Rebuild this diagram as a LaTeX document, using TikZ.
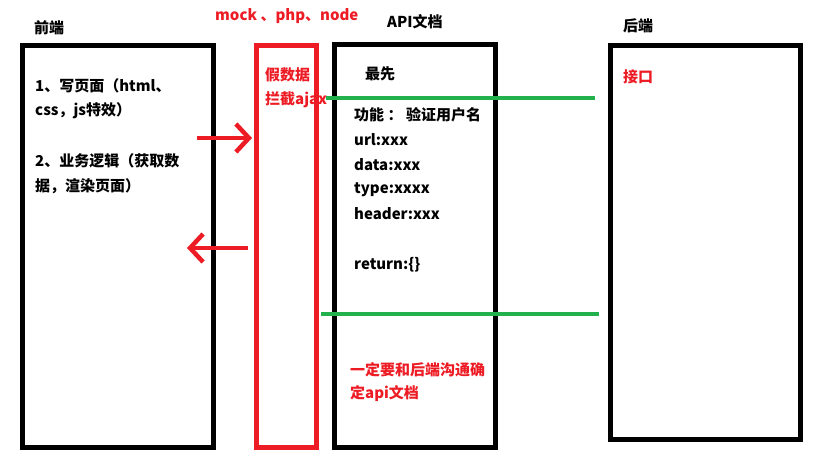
\documentclass[tikz,border=0pt]{standalone}
\usepackage{fontspec}
\setmainfont{Noto Sans CJK SC}
\usepackage{xcolor}
\usetikzlibrary{arrows.meta}
\definecolor{paintred}{HTML}{ED1C24}
\definecolor{paintgreen}{HTML}{22B14C}
\tikzset{
  box/.style={draw, line width=5pt, minimum width=#1},
  lbl/.style={anchor=west, inner sep=0pt, font=\fontsize{15}{18}\selectfont\bfseries},
  redlbl/.style={lbl, text=paintred},
  sync/.style={paintgreen, line width=4pt},
  call/.style={paintred, line width=4.5pt, -{Straight Barb[length=13pt,width=28pt]}}
}
\begin{document}
\begin{tikzpicture}[x=1pt, y=-1pt]
\useasboundingbox (0,0) rectangle (834,467);
%----------------------------------------
\node[box=191pt, minimum height=402pt] (front) at (117.5,246.5) {};
\node[box=59.5pt, minimum height=402pt, draw=paintred] (mock) at (286.25,246) {};
\node[box=160.5pt, minimum height=403.5pt] (api) at (414.75,245.75) {};
\node[box=189.5pt, minimum height=394.5pt] (back) at (705.25,242.25) {};
%----------------------------------------
\node[lbl] (fronttitle) at (34,28) {前端};
\node[redlbl] (mocktitle) at (215,16) {mock 、php、node};
\node[lbl] (apititle) at (387,22) {API文档};
\node[lbl] (backtitle) at (623,26) {后端};
%----------------------------------------
\node[lbl] (f1) at (35,86) {1、写页面（html、};
\node[lbl] (f2) at (35,111) {css，js特效）};
\node[lbl] (f3) at (35,161) {2、业务逻辑（获取数};
\node[lbl] (f4) at (35,186) {据，渲染页面）};
%----------------------------------------
\node[redlbl] (m1) at (265,75) {假数据};
\node[redlbl] (m2) at (265,100) {拦截ajax};
%----------------------------------------
\node[lbl] (a0) at (365,74) {最先};
\node[lbl] (a1) at (354,115) {功能 ： 验证用户名};
\node[lbl] (a2) at (354,140) {url:xxx};
\node[lbl] (a3) at (354,165) {data:xxx};
\node[lbl] (a4) at (354,190) {type:xxxx};
\node[lbl] (a5) at (354,214) {header:xxx};
\node[lbl] (a6) at (354,265) {return:\{\}};
\node[redlbl] (a7) at (350,370) {一定要和后端沟通确};
\node[redlbl] (a8) at (350,394) {定api文档};
%----------------------------------------
\node[redlbl] (b1) at (623,77) {接口};
%----------------------------------------
\coordinate (req1) at (197,138);
\coordinate (req2) at (252,138);
\coordinate (res1) at (248,248);
\coordinate (res2) at (187,248);
\draw[call] (req1) -- (req2);
\draw[call] (res1) -- (res2);
%----------------------------------------
\coordinate (g1) at (326,98);
\coordinate (g2) at (595,98);
\coordinate (g3) at (321,314);
\coordinate (g4) at (599,314);
\draw[sync] (g1) -- (g2);
\draw[sync] (g3) -- (g4);
\end{tikzpicture}
\end{document}
